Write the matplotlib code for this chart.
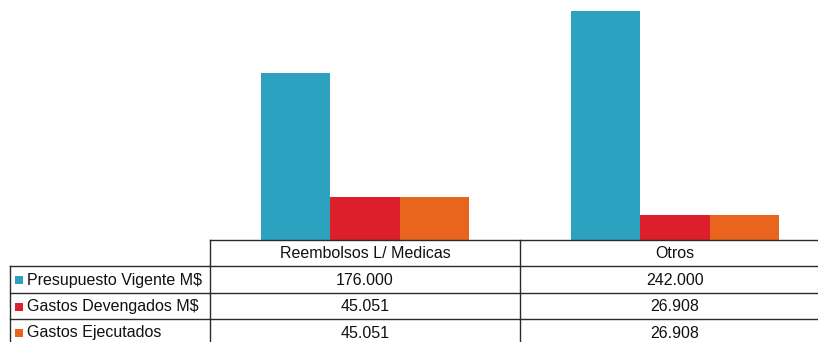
import matplotlib
matplotlib.use("Agg")
import matplotlib.pyplot as plt
from matplotlib.patches import Rectangle
import numpy as np

plt.rcParams['font.family'] = ['Liberation Sans', 'DejaVu Sans']

categories = ["Reembolsos L/ Medicas", "Otros"]
series_names = ["Presupuesto Vigente M$", "Gastos Devengados M$", "Gastos Ejecutados"]
presupuesto = [176.000, 242.000]
devengados = [45.051, 26.908]
ejecutados = [45.051, 26.908]
value_labels = [["176.000", "242.000"], ["45.051", "26.908"], ["45.051", "26.908"]]
colors = ["#2DA2C0", "#DC1F2A", "#E9651E"]

W, H = 818, 342
fig = plt.figure(figsize=(W / 100, H / 100), dpi=100)

# pixel geometry of plot / table
base_y = 240          # baseline of bars (pixels from top)
col0_x = 210          # left edge of first category column
col_w = 310           # width of each category column
label_x = 10          # left edge of the row-label column
row_edges = [240, 266, 292.5, 319, 345]

# bar axes
ax = fig.add_axes([col0_x / W, (H - base_y) / H, 2 * col_w / W, base_y / H])
x = np.arange(len(categories))
bw = 0.2226
series = [presupuesto, devengados, ejecutados]
for i, (vals, c) in enumerate(zip(series, colors)):
    ax.bar(x + (i - 1) * bw, vals, width=bw, color=c, edgecolor="none")
ax.set_xlim(-0.5, 1.5)
ax.set_ylim(0, 253.5)
ax.axis("off")

# data table drawn in pixel coordinates
tx = fig.add_axes([0, 0, 1, 1])
tx.set_xlim(0, W)
tx.set_ylim(H, 0)
tx.axis("off")
lc = "#2a2a2a"
lw = 1.0
right = col0_x + 2 * col_w
# horizontal lines
tx.plot([col0_x, right], [row_edges[0]] * 2, color=lc, lw=lw)
for y in row_edges[1:]:
    tx.plot([label_x, right], [y, y], color=lc, lw=lw)
# vertical lines
tx.plot([label_x, label_x], [row_edges[1], row_edges[-1]], color=lc, lw=lw)
for k in range(3):
    xv = col0_x + k * col_w
    tx.plot([xv, xv], [row_edges[0], row_edges[-1]], color=lc, lw=lw)

fs = 11.5
# header
for j, cat in enumerate(categories):
    cx = col0_x + (j + 0.5) * col_w
    tx.text(cx, (row_edges[0] + row_edges[1]) / 2 + 1, cat, ha="center", va="center",
            fontsize=fs, color="#111111")
# rows
for i, name in enumerate(series_names):
    yc = (row_edges[i + 1] + row_edges[i + 2]) / 2 + 1
    tx.add_patch(Rectangle((15, yc - 4), 8, 8, color=colors[i], lw=0))
    tx.text(27, yc, name, ha="left", va="center", fontsize=fs, color="#111111")
    for j in range(len(categories)):
        cx = col0_x + (j + 0.5) * col_w
        tx.text(cx, yc, value_labels[i][j], ha="center", va="center",
                fontsize=fs, color="#111111")

fig.savefig("out.png", dpi=100)
